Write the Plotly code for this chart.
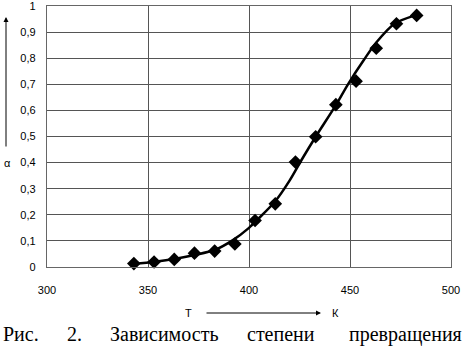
import plotly.graph_objects as go

# measured points
T_points = [343, 353, 363, 373, 383, 393, 403, 413, 423, 433, 443, 453, 463, 473, 483]
alpha_points = [0.013, 0.019, 0.029, 0.053, 0.061, 0.088, 0.178, 0.242, 0.402, 0.499, 0.622, 0.712, 0.838, 0.932, 0.964]

# fitted curve
T_curve = [343, 353, 363, 373, 383, 392, 400, 404, 413, 420, 426, 433, 443, 449, 457, 463, 472, 483]
alpha_curve = [0.011, 0.020, 0.031, 0.046, 0.065, 0.103, 0.150, 0.180, 0.252, 0.330, 0.410, 0.499, 0.620, 0.700, 0.795, 0.860, 0.932, 0.966]

x_ticks = [300, 350, 400, 450, 500]
y_ticks = [0, 0.1, 0.2, 0.3, 0.4, 0.5, 0.6, 0.7, 0.8, 0.9, 1]
y_tick_labels = ["0", "0,1", "0,2", "0,3", "0,4", "0,5", "0,6", "0,7", "0,8", "0,9", "1"]

caption_words = ["Рис.", "2.", "Зависимость", "степени", "превращения"]

W, H = 464, 346
L, R, T, B = 47, 13, 6, 79
pw, ph = W - L - R, H - T - B


def px(x):
    return (x - L) / pw


def py(y):
    return (H - B - y) / ph


fig = go.Figure()
fig.add_trace(go.Scatter(x=T_curve, y=alpha_curve, mode="lines",
                         line=dict(color="black", width=2.5, shape="spline", smoothing=0.8),
                         hoverinfo="skip", showlegend=False, cliponaxis=False))
fig.add_trace(go.Scatter(x=T_points, y=alpha_points, mode="markers",
                         marker=dict(symbol="diamond", size=10.5, color="black"),
                         showlegend=False, cliponaxis=False))

axis_common = dict(showline=True, mirror=True, linecolor="#666", linewidth=1.3,
                   showgrid=True, gridcolor="#555", gridwidth=1, zeroline=False,
                   automargin=False, ticklabeloverflow="allow",
                   ticks="", tickfont=dict(family="Liberation Sans, Arial", size=11, color="black"))

fig.update_xaxes(range=[300, 500], tickvals=x_ticks, ticktext=[str(v) for v in x_ticks],
                 ticklabelstandoff=13, **axis_common)
fig.update_yaxes(range=[0, 1], tickvals=y_ticks, ticktext=y_tick_labels,
                 ticklabelstandoff=8, **axis_common)

small = dict(family="Liberation Sans, Arial", size=11, color="black")
ann = []
# vertical arrow for alpha
ann.append(dict(xref="paper", yref="paper", x=px(6), y=py(17), ax=0, ay=131,
                axref="pixel", ayref="pixel", text="", showarrow=True,
                arrowhead=2, arrowsize=1, arrowwidth=1, arrowcolor="black"))
ann.append(dict(xref="paper", yref="paper", x=px(7), y=py(163), text="α", showarrow=False,
                xanchor="center", yanchor="middle", font=small))
# horizontal arrow for T
ann.append(dict(xref="paper", yref="paper", x=px(321), y=py(313), ax=-116, ay=0,
                text="", showarrow=True, arrowhead=2, arrowsize=1, arrowwidth=1, arrowcolor="black"))
ann.append(dict(xref="paper", yref="paper", x=px(188), y=py(313), text="T", showarrow=False,
                xanchor="center", yanchor="middle", font=small))
ann.append(dict(xref="paper", yref="paper", x=px(335), y=py(313), text="К", showarrow=False,
                xanchor="center", yanchor="middle", font=small))

# justified caption
cap_x = [1, 65, 108, 245, 464]
cap_anchor = ["left", "left", "left", "left", "right"]
for w, xx, a in zip(caption_words, cap_x, cap_anchor):
    ann.append(dict(xref="paper", yref="paper", x=px(xx), y=py(334), text=w, showarrow=False,
                    xanchor=a, yanchor="middle",
                    font=dict(family="Liberation Serif, Times New Roman", size=20, color="black")))

fig.update_layout(width=W, height=H, margin=dict(l=L, r=R, t=T, b=B),
                  paper_bgcolor="white", plot_bgcolor="white", annotations=ann)

fig.write_html("out.html", config={"displayModeBar": False},
               post_script="document.body.style.margin='0';document.body.style.padding='0';")
